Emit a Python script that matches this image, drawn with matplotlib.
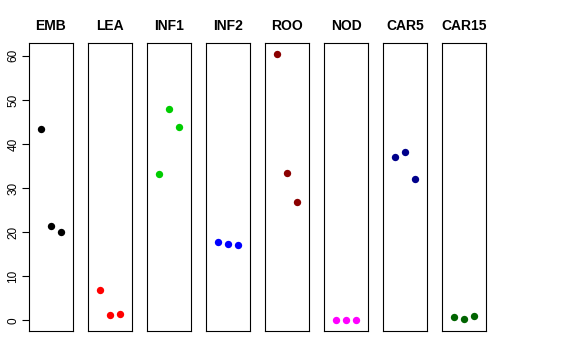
import matplotlib
matplotlib.use("Agg")
import matplotlib.pyplot as plt

# Daten pro Gewebe (3 Replikate)
tissues = ["EMB", "LEA", "INF1", "INF2", "ROO", "NOD", "CAR5", "CAR15"]
values = {
    "EMB":   [43.3, 21.4, 20.0],
    "LEA":   [6.9, 1.2, 1.5],
    "INF1":  [33.3, 48.0, 43.9],
    "INF2":  [17.7, 17.4, 17.0],
    "ROO":   [60.5, 33.4, 26.9],
    "NOD":   [0.05, 0.05, 0.05],
    "CAR5":  [37.1, 38.3, 32.0],
    "CAR15": [0.8, 0.4, 0.9],
}
colors = ["black", "red", "#00CD00", "blue", "#8B0000", "magenta", "#00008B", "#006400"]
yticks = [0, 10, 20, 30, 40, 50, 60]

plt.rcParams["font.family"] = ["Liberation Sans", "DejaVu Sans"]

W, H = 576, 360
fig = plt.figure(figsize=(W / 100, H / 100), dpi=100)

left0, pw, step = 29, 44, 59
top, bottom = 43, 331
for i, (t, c) in enumerate(zip(tissues, colors)):
    ax = fig.add_axes([(left0 + i * step) / W, (H - bottom) / H,
                       pw / W, (bottom - top) / H])
    ax.scatter([1, 2, 3], values[t], s=28, color=c, zorder=3, linewidths=0)
    ax.set_xlim(-0.16, 4.16)
    ax.set_ylim(-2.42, 62.92)
    ax.set_xticks([])
    for s in ax.spines.values():
        s.set_linewidth(0.8)
    ax.set_title(t, fontsize=10, fontweight="bold", pad=9)
    if i == 0:
        ax.set_yticks(yticks)
        ax.tick_params(axis="y", length=5, width=0.8, labelsize=8.5, pad=2)
        for lab in ax.get_yticklabels():
            lab.set_rotation(90)
            lab.set_va("center")
    else:
        ax.set_yticks([])

plt.savefig("out.png", dpi=100)
plt.close()
